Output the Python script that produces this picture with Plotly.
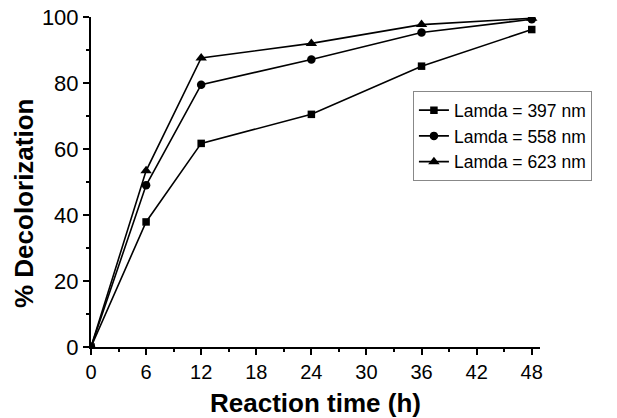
import plotly.graph_objects as go

time_h = [0, 6, 12, 24, 36, 48]
lamda_397 = [0, 37.9, 61.7, 70.5, 85.1, 96.2]
lamda_558 = [0, 49.0, 79.5, 87.1, 95.3, 99.3]
lamda_623 = [0, 53.4, 87.6, 92.0, 97.7, 99.6]

series = [
    ("Lamda = 397 nm", lamda_397, "square", 7.5),
    ("Lamda = 558 nm", lamda_558, "circle", 8.5),
    ("Lamda = 623 nm", lamda_623, "triangle-up", 10),
]

fig = go.Figure()
for name, vals, sym, msize in series:
    fig.add_trace(go.Scatter(
        x=time_h, y=vals, name=name, mode="lines+markers",
        line=dict(color="black", width=1.6),
        marker=dict(symbol=sym, size=msize, color="black"),
    ))

font = "Arial, 'Liberation Sans', sans-serif"
fig.update_layout(
    width=617, height=418,
    margin=dict(l=91, r=77, t=17, b=71),
    paper_bgcolor="white", plot_bgcolor="white",
    font=dict(family=font, color="black", size=19),
    showlegend=True,
    legend=dict(
        x=0.717, y=0.775, xanchor="left", yanchor="top",
        bordercolor="#888888", borderwidth=1, bgcolor="white",
        font=dict(size=17.5, family=font), tracegroupgap=0,
    ),
    xaxis=dict(
        range=[0, 48.9], tickvals=[0, 6, 12, 18, 24, 30, 36, 42, 48],
        showline=True, linecolor="black", linewidth=2,
        ticks="outside", ticklen=6, tickwidth=2, tickcolor="black",
        minor=dict(ticks="outside", dtick=3, ticklen=3, tickwidth=2, tickcolor="black"),
        showgrid=False, zeroline=False, automargin=False,
        tickfont=dict(size=20),
        title=dict(text="<b>Reaction time (h)</b>", font=dict(size=26, family=font), standoff=12),
    ),
    yaxis=dict(
        range=[0, 100], tickvals=[0, 20, 40, 60, 80, 100],
        showline=True, linecolor="black", linewidth=2,
        ticks="outside", ticklen=6, tickwidth=2, tickcolor="black",
        minor=dict(ticks="outside", dtick=10, ticklen=3, tickwidth=2, tickcolor="black"),
        showgrid=False, zeroline=False, automargin=False,
        tickfont=dict(size=22),
    ),
    annotations=[dict(
        text="<b>% Decolorization</b>", textangle=-90,
        xref="paper", yref="paper", x=-0.148, y=0.435,
        xanchor="center", yanchor="middle", showarrow=False,
        font=dict(size=26, family=font, color="black"),
    )],
)

fig.write_html("out.html", config={"displayModeBar": False},
               post_script="document.body.style.margin='0px';")
